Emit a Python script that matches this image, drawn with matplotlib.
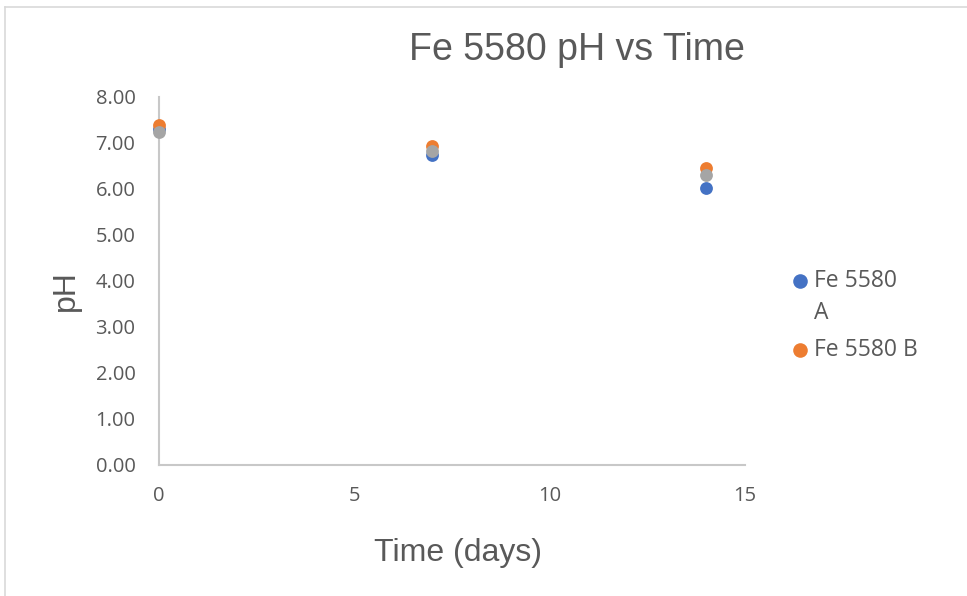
import matplotlib
matplotlib.use("Agg")
import matplotlib.pyplot as plt
from matplotlib.lines import Line2D

# Sample pH readings over time
days = [0, 7, 14]
ph_a = [7.30, 6.74, 6.02]
ph_b = [7.39, 6.93, 6.46]
ph_c = [7.24, 6.83, 6.30]

series_labels = ["Fe 5580 A", "Fe 5580 B"]
y_ticks = [0, 1, 2, 3, 4, 5, 6, 7, 8]
x_ticks = [0, 5, 10, 15]

W, H = 967, 596
fig = plt.figure(figsize=(W / 100, H / 100), dpi=100)
fig.patch.set_facecolor("white")

# Chart area outline (left and top edges)
edge = "#D9D9D9"
fig.add_artist(Line2D([5 / W, 5 / W], [0, 1 - 7 / H], transform=fig.transFigure, color=edge, lw=1.2))
fig.add_artist(Line2D([5 / W, 1], [1 - 7 / H, 1 - 7 / H], transform=fig.transFigure, color=edge, lw=1.2))

ax = fig.add_axes([159 / W, 1 - 465 / H, (745 - 159) / W, (465 - 97) / H])

tick_font = "Open Sans"
title_font = "Liberation Sans"
text_col = "#595959"
colors = ["#4472C4", "#ED7D31", "#A5A5A5"]

for vals, col in zip([ph_a, ph_b, ph_c], colors):
    ax.scatter(days, vals, s=85, color=col, zorder=3, linewidths=0, clip_on=False)

ax.set_xlim(0, 15)
ax.set_ylim(0, 8)
ax.set_xticks(x_ticks)
ax.set_yticks(y_ticks)
ax.set_yticklabels([f"{v:.2f}" for v in y_ticks])
ax.tick_params(axis="both", length=0, labelsize=14.5, labelcolor=text_col)
ax.tick_params(axis="y", pad=17)
ax.tick_params(axis="x", pad=15)
for lab in ax.get_xticklabels() + ax.get_yticklabels():
    lab.set_fontfamily(tick_font)

for side in ["top", "right"]:
    ax.spines[side].set_visible(False)
for side in ["left", "bottom"]:
    ax.spines[side].set_color("#C8C8C8")
    ax.spines[side].set_linewidth(1.5)

fig.text(577 / W, 1 - 50 / H, "Fe 5580 pH vs Time", ha="center", va="center",
         fontsize=27, family=title_font, color=text_col)
fig.text(458 / W, 1 - 553 / H, "Time (days)", ha="center", va="center",
         fontsize=23, family=title_font, color=text_col)
fig.text(66 / W, 1 - 291 / H, "pH", ha="center", va="center", rotation=90,
         fontsize=23, family=title_font, color=text_col)

# Legend: the first label wraps onto a second line, marker stays on the first line
legend_lines = [["Fe 5580", "A"], ["Fe 5580 B"]]
entry_y = [281, 350]
for lines, y, col in zip(legend_lines, entry_y, colors[:2]):
    fig.add_artist(Line2D([800 / W], [1 - y / H], transform=fig.transFigure,
                          marker="o", markersize=10.5, color=col, linestyle="none",
                          markeredgewidth=0))
    for i, line in enumerate(lines):
        fig.text(814 / W, 1 - (y + 32 * i) / H, line, ha="left", va="center",
                 fontsize=16.5, family=tick_font, color=text_col)

fig.savefig("out.png", dpi=100, facecolor="white")
